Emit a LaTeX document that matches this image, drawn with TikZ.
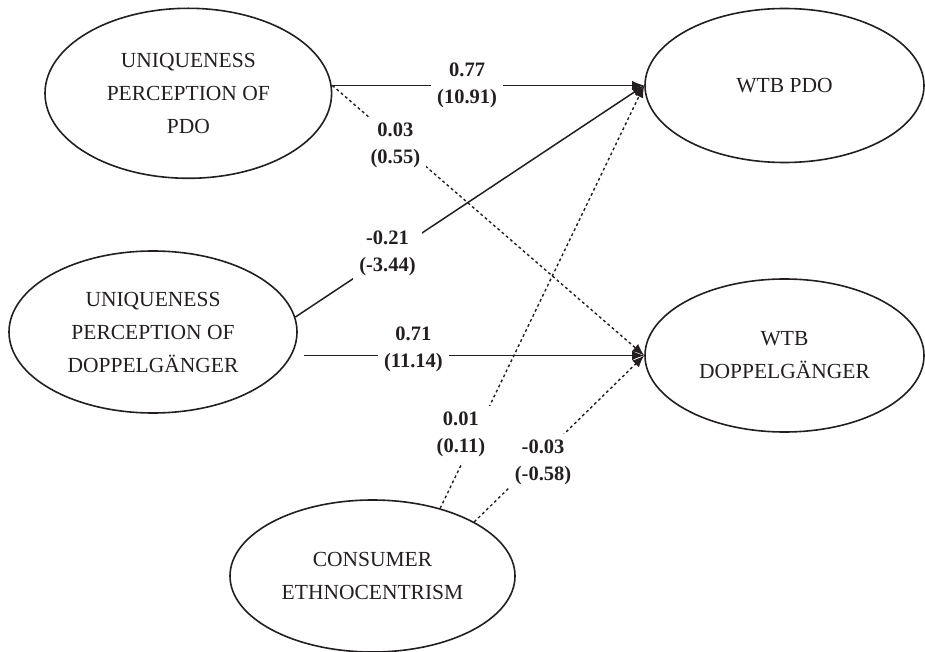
\documentclass[tikz,border=0pt]{standalone}
\usepackage{fontspec}
\setmainfont{Liberation Serif}
\usetikzlibrary{shapes.geometric,arrows.meta}
\definecolor{ink}{HTML}{231F20}
\begin{document}
\begin{tikzpicture}[x=1pt,y=-1pt,
  latent/.style={ellipse,draw=ink,line width=1.6pt,inner sep=0pt,align=center,text=ink,
    font=\fontsize{21.5}{33}\selectfont},
  sigpath/.style={draw=ink,line width=1.5pt,-{Latex[length=12pt,width=9.5pt]}},
  nspath/.style={sigpath,line width=1.4pt,dash pattern=on 2.8pt off 2.8pt},
  coef/.style={fill=white,inner sep=6pt,align=center,text=ink,
    font=\fontsize{20.5}{27}\selectfont\bfseries}]
\useasboundingbox (0,0) rectangle (925,652);
\node[latent,minimum width=286.6pt,minimum height=170pt] (UPP) at (188.3,93.3)
  {UNIQUENESS\\PERCEPTION OF\\PDO};
\node[latent,minimum width=288pt,minimum height=162pt] (UPD) at (153,332)
  {UNIQUENESS\\PERCEPTION OF\\DOPPELGÄNGER};
\node[latent,minimum width=279pt,minimum height=154pt] (WTBP) at (784.5,85.5)
  {WTB PDO};
\node[latent,minimum width=279pt,minimum height=153pt] (WTBD) at (784.5,355.5)
  {WTB\\DOPPELGÄNGER};
\node[latent,minimum width=285pt,minimum height=152pt] (CE) at (372.5,576)
  {CONSUMER\\ETHNOCENTRISM};
\coordinate (s1) at (UPP.east |- WTBP.west);
\coordinate (s4) at ([xshift=6pt]UPD.east |- WTBD.west);
\draw[sigpath] (s1) -- node[coef,pos=0.432]{0.77\\(10.91)} (WTBP.west);
\draw[nspath] (s1) -- node[coef,pos=0.202,yshift=-5.5pt]{0.03\\(0.55)} (WTBD.west);
\draw[sigpath] (UPD.6) -- node[coef,pos=0.264,yshift=3pt]{-0.21\\(-3.44)} (WTBP.west);
\draw[sigpath] (s4) -- node[coef,pos=0.322,yshift=6pt]{0.71\\(11.14)} (WTBD.west);
\draw[nspath] (CE.45) -- node[coef,pos=0.175,xshift=-15pt]{0.01\\(0.11)} (WTBP.west);
\draw[nspath] (CE.28) -- node[coef,pos=0.405,yshift=-7.7pt]{-0.03\\(-0.58)} (WTBD.west);
\end{tikzpicture}
\end{document}
